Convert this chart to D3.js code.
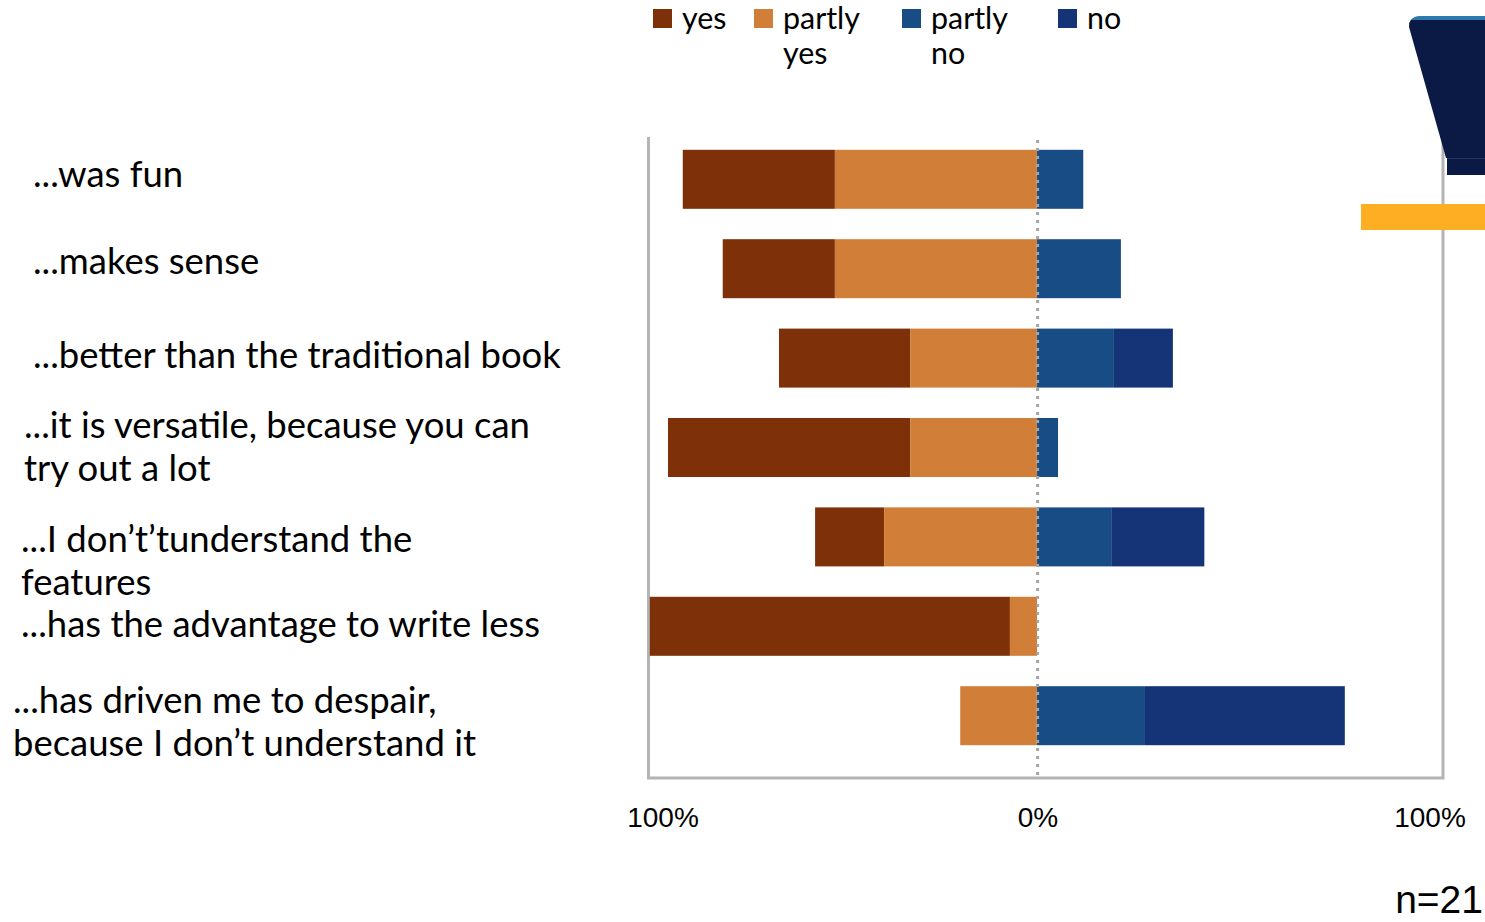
<!DOCTYPE html>
<html>
<head>
<meta charset="utf-8">
<script src="https://cdn.jsdelivr.net/npm/d3@7"></script>
<style>
  body { margin: 0; background: #fff; }
  svg { display: block; }
</style>
</head>
<body>
<svg id="chart"></svg>
<script>
// categories (each entry = lines of the label)
const categories = [
  ["...was fun"],
  ["...makes sense"],
  ["...better than the traditional book"],
  ["...it is versatile, because you can", "try out a lot"],
  ["...I don\u2019t\u2019tunderstand the", "features"],
  ["...has the advantage to write less"],
  ["...has driven me to despair,", "because I don\u2019t understand it"]
];

// shares in %
const yesValues       = [39.2, 28.9, 33.8, 62.4, 17.8, 92.8, 0];
const partlyYesValues = [52.1, 52.1, 32.7, 32.7, 39.4,  7.0, 19.8];
const partlyNoValues  = [11.9, 21.6, 19.8,  5.4, 19.1,  0,   27.8];
const noValues        = [ 0,    0,   15.2,  0,   24.0,  0,   51.5];

const seriesNames = ["yes", "partly yes", "partly no", "no"];
const legendLines = [["yes"], ["partly", "yes"], ["partly", "no"], ["no"]];
const tickValues = [-100, 0, 100];
const tickLabels = ["100%", "0%", "100%"];
const sampleNote = "n=21";

const width = 1485;
const height = 922;
const colors = ["#7e3008", "#d07e38", "#184c84", "#153477"];

const svg = d3.select("#chart")
  .attr("width", width)
  .attr("height", height)
  .attr("viewBox", `0 0 ${width} ${height}`);

// x: negative side = agreement, positive side = disagreement
const x = d3.scaleLinear().domain([-100, 104.6]).range([649, 1443]);
const y = d3.scaleBand()
  .domain(d3.range(categories.length))
  .range([134.6, 760.4])
  .paddingInner(0.34)
  .paddingOuter(0.17);

// build segments
const rows = categories.map((c, i) => {
  const yes = yesValues[i], py = partlyYesValues[i], pn = partlyNoValues[i], no = noValues[i];
  return [
    { s: 0, i, x0: -(yes + py), x1: -py },
    { s: 1, i, x0: -py, x1: 0 },
    { s: 2, i, x0: 0, x1: pn },
    { s: 3, i, x0: pn, x1: pn + no }
  ].filter(d => d.x1 - d.x0 > 0);
});

// plot frame (left, bottom, right)
svg.append("path")
  .attr("d", `M${x(-100) - 0.5},137 V778 H${x(104.6)} V137`)
  .attr("fill", "none")
  .attr("stroke", "#b4b4b4")
  .attr("stroke-width", 3);

// bars
svg.append("g")
  .selectAll("g")
  .data(rows)
  .join("g")
  .selectAll("rect")
  .data(d => d)
  .join("rect")
  .attr("x", d => x(d.x0))
  .attr("width", d => x(d.x1) - x(d.x0))
  .attr("y", d => y(d.i))
  .attr("height", y.bandwidth())
  .attr("fill", d => colors[d.s]);

// dotted zero line
svg.append("line")
  .attr("x1", x(0) + 0.5).attr("x2", x(0) + 0.5)
  .attr("y1", 140).attr("y2", 776)
  .attr("stroke", "#a6a6a6")
  .attr("stroke-width", 3)
  .attr("stroke-dasharray", "3 5");

// category labels
const labelFont = "Lato, 'Noto Sans', sans-serif";
// fit font size so the longest single line matches the picture's width
const probe = svg.append("text")
  .style("font-family", labelFont)
  .style("font-size", "100px")
  .text(categories[2][0]);
const labelSize = 100 * 528 / probe.node().getComputedTextLength();
probe.text("partly");
const legendSize = 100 * 77 / probe.node().getComputedTextLength();
probe.remove();

// text box offsets relative to the band centre (left x, first baseline)
const labelLayout = [
  [33, 7.4], [33, 5.3], [33, 10.2], [24, -9.5], [21, 14.8], [21, 10.4], [13, -2.7]
];
const lineGap = 43;

svg.append("g")
  .selectAll("text")
  .data(categories)
  .join("text")
  .attr("x", (d, i) => labelLayout[i][0])
  .attr("y", (d, i) => y(i) + y.bandwidth() / 2 + labelLayout[i][1])
  .style("font-family", labelFont)
  .style("font-size", labelSize + "px")
  .attr("fill", "#000")
  .selectAll("tspan")
  .data(d => d)
  .join("tspan")
  .attr("x", function () { return this.parentNode.getAttribute("x"); })
  .attr("dy", (d, j) => j === 0 ? 0 : lineGap)
  .text(d => d);

// axis labels
const tickX = d3.scaleLinear().domain([-100, 0, 100]).range([663, 1038, 1430]);
svg.append("g")
  .selectAll("text")
  .data(tickValues)
  .join("text")
  .attr("x", d => tickX(d))
  .attr("y", 827)
  .attr("text-anchor", "middle")
  .style("font-family", "'Liberation Sans', Arial, sans-serif")
  .style("font-size", "28px")
  .text((d, i) => tickLabels[i]);

// legend
const legendX = [653, 754, 902, 1058];
const legend = svg.append("g")
  .selectAll("g")
  .data(seriesNames)
  .join("g")
  .attr("transform", (d, i) => `translate(${legendX[i]},0)`);
legend.append("rect")
  .attr("x", 0).attr("y", 9)
  .attr("width", 19).attr("height", 19)
  .attr("fill", (d, i) => colors[i]);
legend.append("text")
  .attr("y", 29)
  .style("font-family", labelFont)
  .style("font-size", legendSize + "px")
  .selectAll("tspan")
  .data((d, i) => legendLines[i])
  .join("tspan")
  .attr("x", 29)
  .attr("dy", (d, j) => j === 0 ? 0 : 35)
  .text(d => d);

// sample size
svg.append("text")
  .attr("x", 1483)
  .attr("y", 913)
  .attr("text-anchor", "end")
  .style("font-family", "'Liberation Sans', Arial, sans-serif")
  .style("font-size", "39px")
  .text(sampleNote);

// slide decoration at the top right (cut off by the page edge)
const deco = svg.append("g");
deco.append("path")
  .attr("d", "M1409,27 Q1408,18 1418,17 H1485 V158 H1446 Z")
  .attr("fill", "#0a1a44");
deco.append("path")
  .attr("d", "M1411,20 Q1414,16 1420,16 H1485 V20 Z")
  .attr("fill", "#2e78ad");
deco.append("rect")
  .attr("x", 1447).attr("y", 158)
  .attr("width", 38).attr("height", 17)
  .attr("fill", "#0a1a44");
deco.append("line")
  .attr("x1", 1447).attr("x2", 1485)
  .attr("y1", 158.5).attr("y2", 158.5)
  .attr("stroke", "#23345e")
  .attr("stroke-width", 1);
deco.append("rect")
  .attr("x", 1361).attr("y", 204)
  .attr("width", 124).attr("height", 26)
  .attr("fill", "#fdae22");
</script>
</body>
</html>
